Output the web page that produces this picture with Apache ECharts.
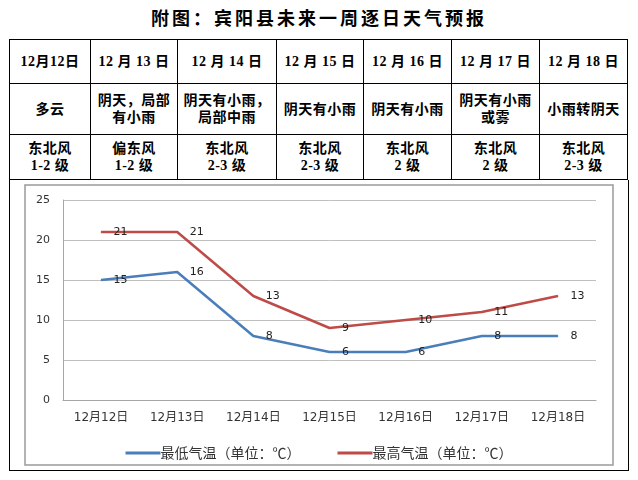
<!DOCTYPE html>
<html>
<head>
<meta charset="utf-8">
<script src="https://cdn.jsdelivr.net/npm/echarts@6/dist/echarts.min.js"></script>
<style>
  html, body { margin: 0; padding: 0; background: #fff; }
  #page { position: relative; width: 638px; height: 480px; overflow: hidden; background: #fff; }
  #title { position: absolute; left: 0; top: 6px; width: 638px; height: 26px; line-height: 26px; text-align: center;
           font-family: "Liberation Serif", "Noto Sans CJK SC", serif; font-weight: bold; font-size: 18px; letter-spacing: 3px; color: #000; }
  #tbl { position: absolute; left: 9px; top: 39px; border-collapse: collapse; table-layout: fixed;
         font-family: "Liberation Serif", "Noto Sans CJK SC", serif; font-weight: bold; font-size: 14px; color: #000; }
  #tbl td { border: 1px solid #000; text-align: center; vertical-align: middle; padding: 0; line-height: 17px; letter-spacing: 0.5px; }
  #box { position: absolute; left: 9px; top: 180px; width: 618px; height: 290px; border: 1px solid #000; border-top: none; }
  #chart { position: absolute; left: 0; top: 0; width: 638px; height: 480px; }
</style>
</head>
<body>
<div id="page">
  <div id="title"></div>
  <table id="tbl"></table>
  <div id="box"></div>
  <div id="chart"></div>
</div>
<script>
const titleText = '附图：宾阳县未来一周逐日天气预报';
const dateHeaders = ['12月12日', '12 月 13 日', '12 月 14 日', '12 月 15 日', '12 月 16 日', '12 月 17 日', '12 月 18 日'];
const weatherTexts = ['多云', '阴天，局部<br>有小雨', '阴天有小雨，<br>局部中雨', '阴天有小雨', '阴天有小雨', '阴天有小雨<br>或雾', '小雨转阴天'];
const windTexts = ['东北风<br>1-2 级', '偏东风<br>1-2 级', '东北风<br>2-3 级', '东北风<br>2-3 级', '东北风<br>2 级', '东北风<br>2 级', '东北风<br>2-3 级'];

const categories = ['12月12日', '12月13日', '12月14日', '12月15日', '12月16日', '12月17日', '12月18日'];
const lowTemps = [15, 16, 8, 6, 6, 8, 8];
const highTemps = [21, 21, 13, 9, 10, 11, 13];
const seriesNames = ['最低气温（单位：℃）', '最高气温（单位：℃）'];
const yMin = 0, yMax = 25, yInterval = 5;

// layout (not data)
const colWidths = [81, 87, 99, 87, 88, 88, 88];
const rowHeights = [44, 51, 45];

document.getElementById('title').textContent = titleText;
const tbl = document.getElementById('tbl');
let html = '<colgroup>' + colWidths.map(w => '<col style="width:' + w + 'px">').join('') + '</colgroup>';
[dateHeaders, weatherTexts, windTexts].forEach((row, i) => {
  html += '<tr style="height:' + rowHeights[i] + 'px">' + row.map(t => '<td>' + t + '</td>').join('') + '</tr>';
});
tbl.innerHTML = html;
tbl.style.width = colWidths.reduce((a, b) => a + b, 0) + 'px';

const chart = echarts.init(document.getElementById('chart'), null, { renderer: 'canvas' });
const labelStyle = {
  show: true, position: 'right', distance: 12,
  fontFamily: 'DejaVu Sans', fontSize: 11, color: '#222'
};
chart.setOption({
  backgroundColor: 'transparent',
  animation: false,
  graphic: [{
    type: 'rect', shape: { x: 25, y: 185, width: 588, height: 280 },
    style: { fill: 'none', stroke: '#9a9a9a', lineWidth: 1.5 }, silent: true, z: 0
  }],
  grid: { left: 63, right: 42, top: 200, bottom: 80 },
  legend: {
    left: 'center', top: 441, icon: 'rect', itemWidth: 35, itemHeight: 3, itemGap: 37,
    textStyle: { fontFamily: 'Noto Sans CJK SC', fontSize: 14, color: '#333', padding: [0, 0, 0, -5] },
    data: seriesNames
  },
  xAxis: {
    type: 'category', data: categories, boundaryGap: true,
    axisLine: { lineStyle: { color: '#a6a6a6', width: 1 } },
    axisTick: { show: false },
    axisLabel: { fontFamily: 'DejaVu Sans, Noto Sans CJK SC', fontSize: 12, color: '#333', margin: 12 }
  },
  yAxis: {
    type: 'value', min: yMin, max: yMax, interval: yInterval,
    axisLine: { show: true, lineStyle: { color: '#a6a6a6', width: 1 } },
    axisTick: { show: false },
    splitLine: { lineStyle: { color: '#bfbfbf', width: 1 } },
    axisLabel: { fontFamily: 'DejaVu Sans', fontSize: 11, color: '#333', margin: 13 }
  },
  series: [
    { name: seriesNames[0], type: 'line', data: lowTemps, symbol: 'circle', symbolSize: 1, showSymbol: true,
      itemStyle: { color: '#4a7ebb' }, lineStyle: { color: '#4a7ebb', width: 2.5 }, label: labelStyle },
    { name: seriesNames[1], type: 'line', data: highTemps, symbol: 'circle', symbolSize: 1, showSymbol: true,
      itemStyle: { color: '#be4b48' }, lineStyle: { color: '#be4b48', width: 2.5 }, label: labelStyle }
  ]
});
</script>
</body>
</html>
